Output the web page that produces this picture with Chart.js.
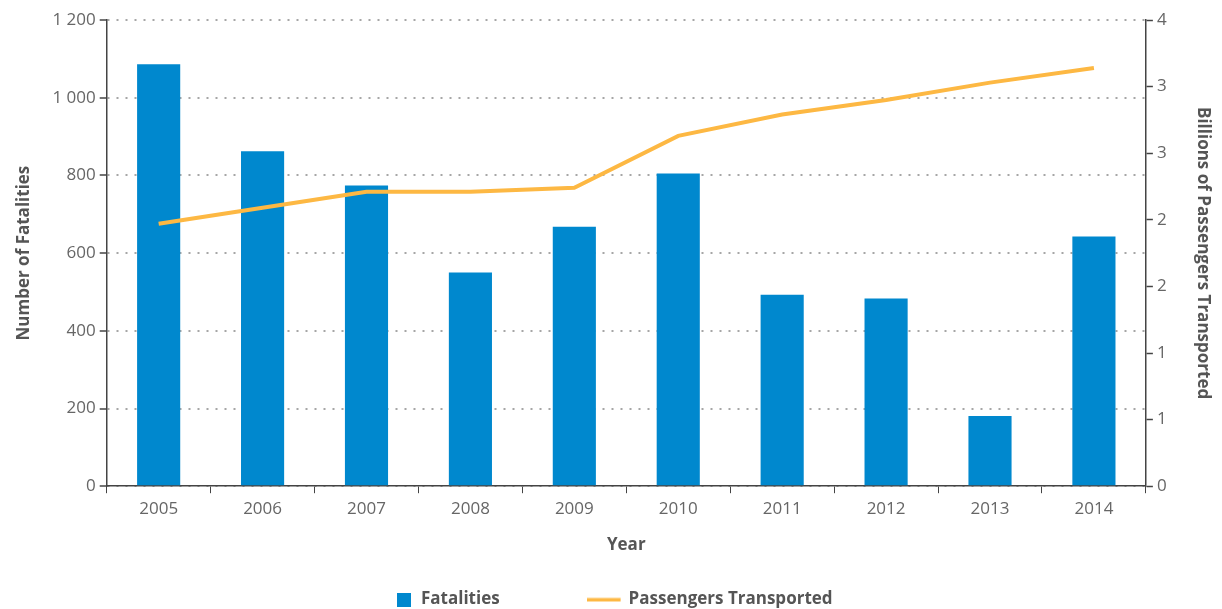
<!DOCTYPE html>
<html>
<head>
<meta charset="utf-8">
<script src="https://cdn.jsdelivr.net/npm/chart.js@4/dist/chart.umd.min.js"></script>
<style>
  html, body { margin: 0; padding: 0; background: #fff; }
  #wrap { width: 1222px; height: 609px; }
</style>
</head>
<body>
<div id="wrap"><canvas id="chart"></canvas></div>
<script>
const years = ['2005', '2006', '2007', '2008', '2009', '2010', '2011', '2012', '2013', '2014'];
const fatalities = [1086, 862, 774, 550, 668, 805, 493, 483, 181, 643];
const passengers = [1.97, 2.09, 2.21, 2.21, 2.24, 2.63, 2.79, 2.90, 3.03, 3.14];

const BLUE = '#0088ce';
const GOLD = '#fdb843';
const TEXT = '#666666';
const TITLE = '#555555';
const AXIS = '#444444';

Chart.defaults.font.family = '"Open Sans", "Noto Sans", sans-serif';
Chart.defaults.color = TEXT;

// legend swatches as small canvases
function swatch(kind) {
    const c = document.createElement('canvas');
    if (kind === 'box') {
        c.width = 14; c.height = 14;
        const g = c.getContext('2d');
        g.fillStyle = BLUE;
        g.fillRect(0, 0, 14, 14);
    } else {
        c.width = 50; c.height = 6;
        const g = c.getContext('2d');
        g.fillStyle = GOLD;
        g.fillRect(0, 1.5, 34, 3.5);
    }
    return c;
}

const fmt = v => String(v).replace(/\B(?=(\d{3})+(?!\d))/g, ' ');

new Chart(document.getElementById('chart'), {
    data: {
        labels: years,
        datasets: [
            {
                type: 'line',
                label: 'Passengers Transported',
                data: passengers,
                borderColor: GOLD,
                borderWidth: 4,
                pointRadius: 0,
                tension: 0,
                fill: false,
                yAxisID: 'y1',
                order: 0
            },
            {
                type: 'bar',
                label: 'Fatalities',
                data: fatalities,
                backgroundColor: BLUE,
                barPercentage: 0.415,
                categoryPercentage: 1,
                yAxisID: 'y',
                order: 1
            }
        ]
    },
    options: {
        responsive: true,
        maintainAspectRatio: false,
        animation: false,
        layout: { padding: { top: 20, left: 8, right: 2, bottom: -9 } },
        plugins: {
            tooltip: { enabled: false },
            legend: {
                position: 'bottom',
                labels: {
                    usePointStyle: true,
                    padding: 10,
                    color: TITLE,
                    font: { size: 17, weight: 'bold' },
                    // em spaces keep the wide gap between the two items
                    generateLabels: chart => [
                        { text: 'Fatalities\u2003\u2003\u2003\u2003\u2003\u2002', pointStyle: swatch('box'), fontColor: TITLE, datasetIndex: 1, lineWidth: 0 },
                        { text: 'Passengers Transported', pointStyle: swatch('line'), fontColor: TITLE, datasetIndex: 0, lineWidth: 0 }
                    ]
                }
            }
        },
        scales: {
            x: {
                offset: true,
                grid: { offset: true, drawOnChartArea: false, tickLength: 7, tickColor: AXIS },
                border: { color: AXIS, width: 1.5 },
                ticks: { color: TEXT, font: { size: 17 }, padding: 6, maxRotation: 0 },
                title: { display: true, text: 'Year', color: TITLE, font: { size: 17, weight: 'bold' }, padding: { top: 9, bottom: 26 } }
            },
            y: {
                position: 'left',
                min: 0,
                max: 1200,
                ticks: { stepSize: 200, color: TEXT, font: { size: 17 }, padding: 4, callback: v => fmt(v) },
                grid: { color: '#a6a6a6', lineWidth: 2, tickLength: 7, tickColor: AXIS, tickWidth: 1.5 },
                border: { color: AXIS, width: 1.5, dash: [2, 7] },
                title: { display: true, text: 'Number of Fatalities', color: TITLE, font: { size: 17, weight: 'bold' }, padding: { top: 6, bottom: 14 } }
            },
            y1: {
                position: 'right',
                min: 0,
                max: 3.5,
                ticks: { stepSize: 0.5, color: TEXT, font: { size: 17 }, padding: 4, callback: v => Math.round(v) },
                grid: { drawOnChartArea: false, tickLength: 7, tickColor: AXIS, tickWidth: 1.5 },
                border: { color: AXIS, width: 1.5 },
                title: { display: true, text: 'Billions of Passengers Transported', color: TITLE, font: { size: 17, weight: 'bold' }, padding: { top: 7, bottom: 22 } }
            }
        }
    }
});
</script>
</body>
</html>
